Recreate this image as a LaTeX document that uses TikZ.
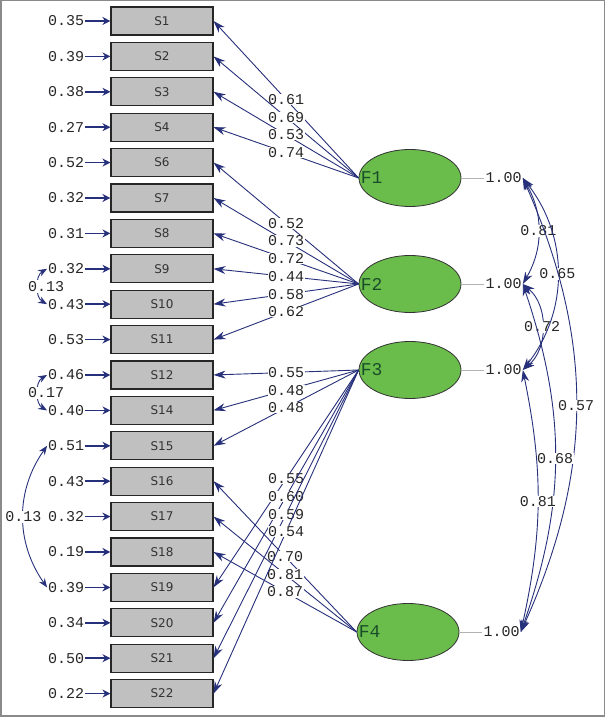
\documentclass[tikz,border=0pt]{standalone}
\usepackage{fontspec}
\setsansfont{DejaVu Sans}
\setmonofont{Liberation Mono}
\usetikzlibrary{arrows.meta,shapes.geometric,positioning}
\usepackage{xcolor}
\definecolor{arrowc}{HTML}{27307A}
\definecolor{boxc}{HTML}{C0C0C0}
\definecolor{latc}{HTML}{6ABD4B}
\definecolor{flabc}{HTML}{1A4D2A}
\definecolor{framec}{HTML}{8A8A8A}
\tikzset{
  obs/.style={draw=black!85, line width=1.1pt, fill=boxc, minimum width=102pt, minimum height=28pt, inner sep=0pt, text=black!80, font=\sffamily\fontsize{12}{12}\selectfont},
  err/.style={inner sep=1pt, text=black!85, font=\ttfamily\fontsize{15}{15}\selectfont},
  errarr/.style={arrowc, line width=1.6pt, -{Stealth[length=8pt,width=8pt]}},
  latent/.style={ellipse, draw=black!80, line width=0.8pt, fill=latc, minimum width=102pt, minimum height=57pt, inner sep=0pt},
  flab/.style={anchor=west, inner sep=2pt, text=flabc, font=\ttfamily\fontsize{18}{18}\selectfont},
  load/.style={arrowc, line width=0.9pt, -{Stealth[length=12pt,width=8pt]}},
  coef/.style={midway, fill=white, inner sep=0.5pt, text=black!85, font=\ttfamily\fontsize{15}{15}\selectfont},
  cov/.style={arrowc, line width=0.9pt, {Stealth[length=12pt,width=8pt]}-{Stealth[length=12pt,width=8pt]}},
  ecov/.style={arrowc, line width=0.9pt, {Stealth[length=9pt,width=7pt]}-{Stealth[length=9pt,width=7pt]}},
}
\begin{document}
\begin{tikzpicture}[x=1pt, y=1pt]
  \useasboundingbox (0,0) rectangle (605,717);
  \draw[framec, line width=1.5pt] (0.75,0.75) rectangle (604.25,716.25);
  % observed indicators with error terms
  \node[obs] (s1) at (162,696.0) {S1};   \node[err, left=25pt of s1] (e1) {0.35};   \draw[errarr] (e1) -- (s1);
  \node[obs] (s2) at (162,660.6) {S2};   \node[err, left=25pt of s2] (e2) {0.39};   \draw[errarr] (e2) -- (s2);
  \node[obs] (s3) at (162,625.2) {S3};   \node[err, left=25pt of s3] (e3) {0.38};   \draw[errarr] (e3) -- (s3);
  \node[obs] (s4) at (162,589.8) {S4};   \node[err, left=25pt of s4] (e4) {0.27};   \draw[errarr] (e4) -- (s4);
  \node[obs] (s6) at (162,554.4) {S6};   \node[err, left=25pt of s6] (e6) {0.52};   \draw[errarr] (e6) -- (s6);
  \node[obs] (s7) at (162,519.0) {S7};   \node[err, left=25pt of s7] (e7) {0.32};   \draw[errarr] (e7) -- (s7);
  \node[obs] (s8) at (162,483.6) {S8};   \node[err, left=25pt of s8] (e8) {0.31};   \draw[errarr] (e8) -- (s8);
  \node[obs] (s9) at (162,448.2) {S9};   \node[err, left=25pt of s9] (e9) {0.32};   \draw[errarr] (e9) -- (s9);
  \node[obs] (s10) at (162,412.8) {S10}; \node[err, left=25pt of s10] (e10) {0.43}; \draw[errarr] (e10) -- (s10);
  \node[obs] (s11) at (162,377.4) {S11}; \node[err, left=25pt of s11] (e11) {0.53}; \draw[errarr] (e11) -- (s11);
  \node[obs] (s12) at (162,342.0) {S12}; \node[err, left=25pt of s12] (e12) {0.46}; \draw[errarr] (e12) -- (s12);
  \node[obs] (s14) at (162,306.6) {S14}; \node[err, left=25pt of s14] (e14) {0.40}; \draw[errarr] (e14) -- (s14);
  \node[obs] (s15) at (162,271.2) {S15}; \node[err, left=25pt of s15] (e15) {0.51}; \draw[errarr] (e15) -- (s15);
  \node[obs] (s16) at (162,235.8) {S16}; \node[err, left=25pt of s16] (e16) {0.43}; \draw[errarr] (e16) -- (s16);
  \node[obs] (s17) at (162,200.4) {S17}; \node[err, left=25pt of s17] (e17) {0.32}; \draw[errarr] (e17) -- (s17);
  \node[obs] (s18) at (162,165.0) {S18}; \node[err, left=25pt of s18] (e18) {0.19}; \draw[errarr] (e18) -- (s18);
  \node[obs] (s19) at (162,129.6) {S19}; \node[err, left=25pt of s19] (e19) {0.39}; \draw[errarr] (e19) -- (s19);
  \node[obs] (s20) at (162,94.2) {S20};  \node[err, left=25pt of s20] (e20) {0.34}; \draw[errarr] (e20) -- (s20);
  \node[obs] (s21) at (162,58.8) {S21};  \node[err, left=25pt of s21] (e21) {0.50}; \draw[errarr] (e21) -- (s21);
  \node[obs] (s22) at (162,23.4) {S22};  \node[err, left=25pt of s22] (e22) {0.22}; \draw[errarr] (e22) -- (s22);
  % error covariances
  \draw[ecov] (e9.west) to[bend right=60] node[midway, xshift=8pt, fill=white, err] {0.13} (e10.west);
  \draw[ecov] (e12.west) to[bend right=60] node[midway, xshift=8pt, fill=white, err] {0.17} (e14.west);
  \draw[ecov] (e15.west) to[out=235, in=125] node[midway, fill=white, err] {0.13} (e19.west);
  % latent factors
  \node[latent] (F1) at (410,539) {}; \node[flab] (f1t) at (F1.west) {F1};
  \node[latent] (F2) at (410,433) {}; \node[flab] (f2t) at (F2.west) {F2};
  \node[latent] (F3) at (410,347) {}; \node[flab] (f3t) at (F3.west) {F3};
  \node[latent] (F4) at (408,85) {};  \node[flab] (f4t) at (F4.west) {F4};
  \node[err, right=23pt of F1] (v1) {1.00}; \draw[gray!60, line width=0.8pt] (F1) -- (v1);
  \node[err, right=23pt of F2] (v2) {1.00}; \draw[gray!60, line width=0.8pt] (F2) -- (v2);
  \node[err, right=23pt of F3] (v3) {1.00}; \draw[gray!60, line width=0.8pt] (F3) -- (v3);
  \node[err, right=23pt of F4] (v4) {1.00}; \draw[gray!60, line width=0.8pt] (F4) -- (v4);
  % loadings
  \draw[load] (F1.west) -- node[coef] {0.61} (s1.east);
  \draw[load] (F1.west) -- node[coef] {0.69} (s2.east);
  \draw[load] (F1.west) -- node[coef] {0.53} (s3.east);
  \draw[load] (F1.west) -- node[coef] {0.74} (s4.east);
  \draw[load] (F2.west) -- node[coef] {0.52} (s6.east);
  \draw[load] (F2.west) -- node[coef] {0.73} (s7.east);
  \draw[load] (F2.west) -- node[coef] {0.72} (s8.east);
  \draw[load] (F2.west) -- node[coef] {0.44} (s9.east);
  \draw[load] (F2.west) -- node[coef] {0.58} (s10.east);
  \draw[load] (F2.west) -- node[coef] {0.62} (s11.east);
  \draw[load] (F4.west) -- node[coef] {0.70} (s16.east);
  \draw[load] (F4.west) -- node[coef] {0.81} (s17.east);
  \draw[load] (F4.west) -- node[coef] {0.87} (s18.east);
  \draw[load] (F3.west) -- node[coef] {0.55} (s12.east);
  \draw[load] (F3.west) -- node[coef] {0.48} (s14.east);
  \draw[load] (F3.west) -- node[coef] {0.48} (s15.east);
  \draw[load] (F3.west) -- node[coef] {0.55} (s19.east);
  \draw[load] (F3.west) -- node[coef] {0.60} (s20.east);
  \draw[load] (F3.west) -- node[coef] {0.59} (s21.east);
  \draw[load] (F3.west) -- node[coef] {0.54} (s22.east);
  % factor covariances
  \draw[cov] (v1.east) to[bend left=30] node[coef] {0.81} (v2.east);
  \draw[cov] (v2.east) to[bend left=50] node[coef] {0.72} (v3.east);
  \draw[cov] (v1.east) to[bend left=38] node[coef] {0.65} (v3.east);
  \draw[cov] (v1.east) to[bend left=24] node[coef] {0.57} (v4.east);
  \draw[cov] (v2.east) to[bend left=19] node[coef] {0.68} (v4.east);
  \draw[cov] (v3.east) to[bend left=12] node[coef] {0.81} (v4.east);
\end{tikzpicture}
\end{document}
